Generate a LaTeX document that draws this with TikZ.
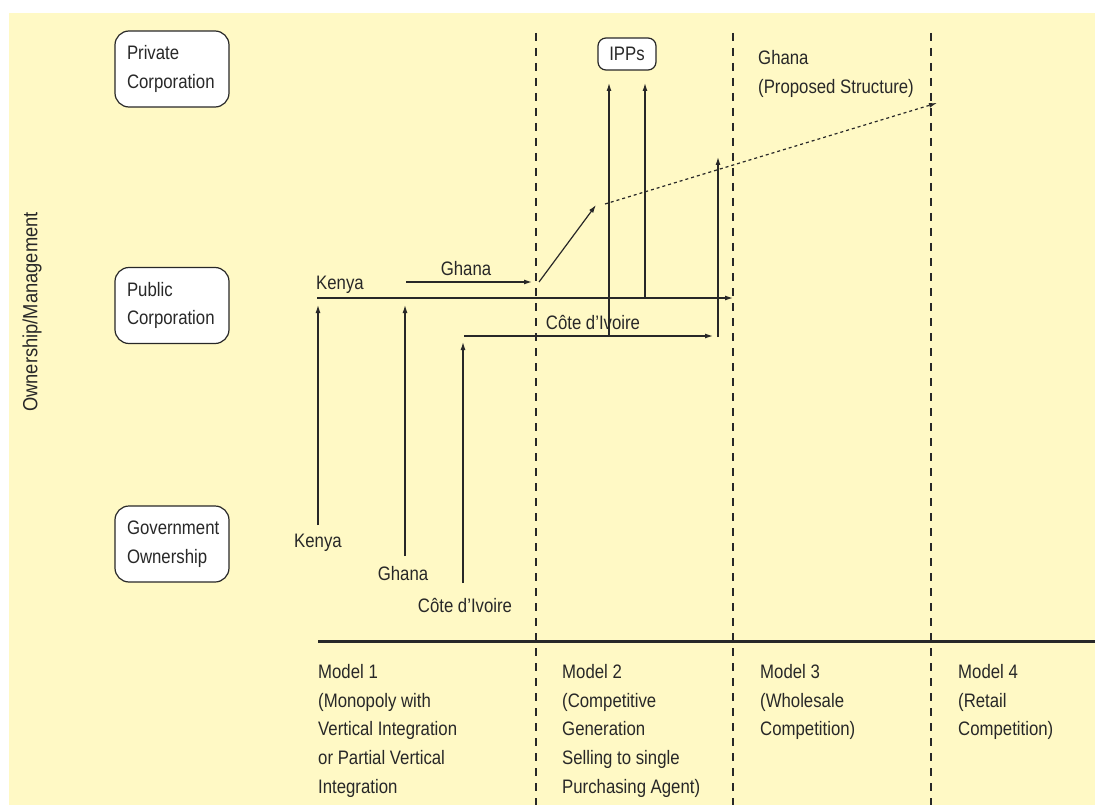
\documentclass[tikz,border=0pt]{standalone}
\usepackage{fontspec}
\setmainfont{Liberation Sans}[FakeStretch=0.86]
\usetikzlibrary{arrows.meta}
\definecolor{paper}{RGB}{255,249,197}
\definecolor{ink}{RGB}{40,40,40}
\begin{document}
\begin{tikzpicture}[x=1pt,y=-1pt,
  every node/.style={font=\fontsize{19.5}{28.8}\selectfont, text=ink, inner sep=0pt},
  box/.style={draw=ink, line width=1.2pt, fill=white, rounded corners=14pt,
    minimum width=114pt, minimum height=76pt, text width=90pt, inner xsep=12pt, align=left},
  ippbox/.style={draw=ink, line width=1.2pt, fill=white, rounded corners=8pt,
    minimum width=58pt, minimum height=32pt},
  flow/.style={draw=ink, line width=1.2pt, -{Latex[length=8pt,width=5pt]}},
  plan/.style={draw=ink, line width=1.2pt, dash pattern=on 3pt off 3pt, -{Latex[length=8pt,width=5pt]}},
  divider/.style={draw=ink, line width=1.2pt, dash pattern=on 8pt off 7pt},
  model/.style={anchor=north west, align=left}]
\useasboundingbox (0,0) rectangle (1095,805);
\fill[white] (0,0) rectangle (1095,805);
\fill[paper] (9,13) rectangle (1095,805);

% axis title
\node[rotate=90, font=\fontsize{20.5}{24}\selectfont, xscale=1.04] (axis) at (32,312) {Ownership/Management};

% ownership levels
\node[box] (priv) at (172,69) {Private\\Corporation};
\node[box] (pub) at (172,305.5) {Public\\Corporation};
\node[box] (gov) at (172,544) {Government\\Ownership};
\node[ippbox] (ipp) at (627,54) {IPPs};

% model dividers and base rule
\coordinate (d1t) at (536,33);  \coordinate (d1b) at (536,805);
\coordinate (d2t) at (733,33);  \coordinate (d2b) at (733,805);
\coordinate (d3t) at (931,33);  \coordinate (d3b) at (931,805);
\draw[divider] (d1t) -- (d1b);
\draw[divider] (d2t) -- (d2b);
\draw[divider] (d3t) -- (d3b);
\coordinate (r0) at (318,641); \coordinate (r1) at (1095,641);
\draw[ink, line width=3pt] (r0) -- (r1);

% country labels
\node[anchor=west] (kenyaH) at (316,285) {Kenya};
\node (ghanaH) at (466,269) {Ghana};
\node (civH) at (593,322) {Côte d’Ivoire};
\node (kenyaV) at (318,543) {Kenya};
\node (ghanaV) at (403,574) {Ghana};
\node (civV) at (465,605) {Côte d’Ivoire};
\node[anchor=north west, align=left] (ghanaP) at (758,50) {Ghana\\(Proposed Structure)};

% Kenya path
\coordinate (kS) at (318,525); \coordinate (kT) at (318,305);
\coordinate (kH0) at (317,298); \coordinate (kH1) at (733,298);
\draw[flow] (kS) -- (kT);
\draw[flow] (kH0) -- (kH1);

% Ghana path
\coordinate (gS) at (405,556); \coordinate (gT) at (405,305);
\coordinate (gH0) at (406,282); \coordinate (gH1) at (532,282);
\coordinate (gD0) at (539,282); \coordinate (gD1) at (596,205);
\coordinate (gP0) at (605,204); \coordinate (gP1) at (937,103);
\draw[flow] (gS) -- (gT);
\draw[flow] (gH0) -- (gH1);
\draw[flow] (gD0) -- (gD1);
\draw[plan] (gP0) -- (gP1);

% Cote d'Ivoire path
\coordinate (cS) at (463,583); \coordinate (cT) at (463,342);
\coordinate (cH0) at (464,336); \coordinate (cH1) at (713,336);
\coordinate (cU0) at (718,337); \coordinate (cU1) at (718,157);
\draw[flow] (cS) -- (cT);
\draw[flow] (cH0) -- (cH1);
\draw[flow] (cU0) -- (cU1);

% independent power producers
\coordinate (i1S) at (609,336); \coordinate (i1T) at (609,83);
\coordinate (i2S) at (645,298); \coordinate (i2T) at (645,83);
\draw[flow] (i1S) -- (i1T);
\draw[flow] (i2S) -- (i2T);

% model descriptions
\node[model] (m1) at (318,664) {Model 1\\(Monopoly with\\Vertical Integration\\or Partial Vertical\\Integration};
\node[model] (m2) at (562,664) {Model 2\\(Competitive\\Generation\\Selling to single\\Purchasing Agent)};
\node[model] (m3) at (760,664) {Model 3\\(Wholesale\\Competition)};
\node[model] (m4) at (958,664) {Model 4\\(Retail\\Competition)};
\end{tikzpicture}
\end{document}
